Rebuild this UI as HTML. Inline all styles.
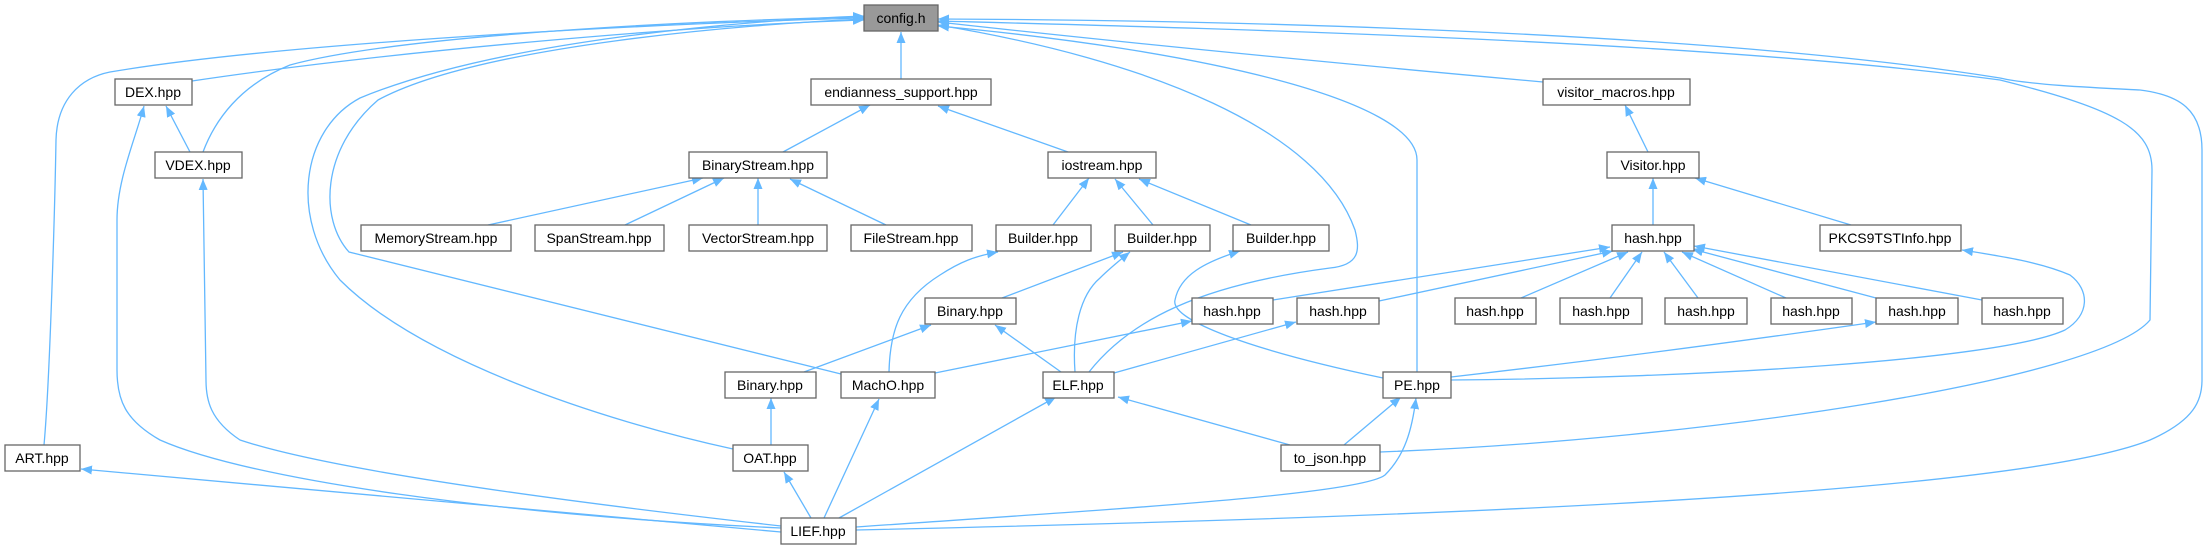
<!DOCTYPE html>
<html><head><meta charset="utf-8"><style>
html,body{margin:0;padding:0;background:#fff;}
svg{display:block;}
text{font-family:"Liberation Sans",sans-serif;font-size:14px;fill:#000;text-anchor:middle;}
.b{fill:#fff;stroke:#666;stroke-width:1.3;}
.e{fill:none;stroke:#63b8ff;stroke-width:1.3;marker-end:url(#a);}
</style></head><body>
<svg width="2208" height="549" viewBox="0 0 2208 549" xmlns="http://www.w3.org/2000/svg">
<defs><marker id="a" markerUnits="userSpaceOnUse" markerWidth="11" markerHeight="9" refX="11" refY="4.5" orient="auto"><path d="M0,0 L11,4.5 L0,9 z" fill="#63b8ff"/></marker></defs>
<!-- edges to config -->
<path class="e" d="M44,445 C50,380 55,200 56,140 C57,100 80,78 110,72 C300,40 700,22 864,18"/>
<path class="e" d="M192,81 C400,50 700,25 864,20"/>
<path class="e" d="M203,152 C215,120 240,85 290,65 C400,35 700,20 864,17"/>
<path class="e" d="M733,449 C600,420 420,360 340,280 C290,220 300,130 360,98 C500,40 750,20 864,16"/>
<path class="e" d="M841,374 L349,252 C320,220 320,150 378,100 C480,45 750,24 864,19"/>
<path class="e" d="M901,79 L901,32"/>
<path class="e" d="M1089,372 C1130,320 1200,285 1330,268 C1360,265 1360,250 1355,230 C1320,130 1150,60 938,25"/>
<path class="e" d="M1417,372 L1417,160 C1417,100 1200,50 938,26"/>
<path class="e" d="M1543,82 C1300,60 1100,40 938,22"/>
<path class="e" d="M1380,452 C1700,440 2100,380 2150,320 L2152,170 C2152,130 2120,110 2000,80 C1700,40 1200,28 938,21"/>
<path class="e" d="M856,530 C1300,520 2000,500 2150,440 C2195,420 2202,400 2202,380 L2202,150 C2202,110 2180,95 2140,90 C2100,88 2030,85 2000,78 C1700,30 1200,20 938,19"/>
<!-- DEX / VDEX / ART -->
<path class="e" d="M190,152 L166,106"/>
<path class="e" d="M781,528 C500,515 250,480 160,440 C125,420 117,400 117,370 L117,220 C117,180 135,140 144,106"/>
<path class="e" d="M781,526 C550,500 330,470 240,440 C210,420 206,400 206,380 L203,179"/>
<path class="e" d="M781,532 L81,469"/>
<!-- endianness -->
<path class="e" d="M783,152 L870,105"/>
<path class="e" d="M1068,152 L938,106"/>
<path class="e" d="M488,225 L703,178"/>
<path class="e" d="M625,225 L724,178"/>
<path class="e" d="M758,225 L758,178"/>
<path class="e" d="M886,225 L790,179"/>
<path class="e" d="M1053,225 L1089,178"/>
<path class="e" d="M1153,225 L1115,179"/>
<path class="e" d="M1251,225 L1139,179"/>
<!-- visitor -->
<path class="e" d="M1648,152 L1625,105"/>
<path class="e" d="M1653,225 L1653,178"/>
<path class="e" d="M1851,225 L1695,178"/>
<path class="e" d="M1273,300 L1610,247"/>
<path class="e" d="M1379,301 L1613,251"/>
<path class="e" d="M1521,298 L1628,252"/>
<path class="e" d="M1610,298 L1642,252"/>
<path class="e" d="M1698,298 L1664,252"/>
<path class="e" d="M1786,298 L1682,252"/>
<path class="e" d="M1876,298 L1692,249"/>
<path class="e" d="M1982,300 L1694,246"/>
<path class="e" d="M1451,380 C1700,378 2000,360 2065,330 C2090,315 2090,290 2070,275 C2040,262 2000,256 1962,250"/>
<!-- builders -->
<path class="e" d="M889,372 C890,330 900,300 940,275 C960,262 975,256 998,252"/>
<path class="e" d="M1002,298 L1123,252"/>
<path class="e" d="M1075,372 C1072,330 1080,295 1100,278 C1110,268 1120,260 1130,252"/>
<path class="e" d="M1383,378 C1250,350 1170,320 1175,300 C1180,275 1205,262 1240,251"/>
<!-- binary / hash -->
<path class="e" d="M804,372 L931,325"/>
<path class="e" d="M1061,372 L995,325"/>
<path class="e" d="M935,373 L1192,321"/>
<path class="e" d="M1114,373 L1296,322"/>
<path class="e" d="M1451,377 C1600,360 1750,340 1876,322"/>
<!-- lower -->
<path class="e" d="M771,445 L771,398"/>
<path class="e" d="M811,518 L784,472"/>
<path class="e" d="M824,518 L879,399"/>
<path class="e" d="M839,518 L1056,397"/>
<path class="e" d="M1290,445 L1118,397"/>
<path class="e" d="M1344,445 L1401,397"/>
<path class="e" d="M856,527 C1100,510 1360,495 1385,475 C1405,455 1412,430 1416,398"/>
<!-- nodes -->
<rect x="864" y="5" width="74" height="26" fill="#999" stroke="#666" stroke-width="1.3"/><text x="901" y="23">config.h</text>
<rect class="b" x="115" y="79" width="77" height="26"/><text x="153" y="97">DEX.hpp</text>
<rect class="b" x="811" y="79" width="180" height="26"/><text x="901" y="97">endianness_support.hpp</text>
<rect class="b" x="1543" y="79" width="147" height="26"/><text x="1616" y="97">visitor_macros.hpp</text>
<rect class="b" x="155" y="152" width="87" height="26"/><text x="198" y="170">VDEX.hpp</text>
<rect class="b" x="689" y="152" width="138" height="26"/><text x="758" y="170">BinaryStream.hpp</text>
<rect class="b" x="1048" y="152" width="108" height="26"/><text x="1102" y="170">iostream.hpp</text>
<rect class="b" x="1607" y="152" width="92" height="26"/><text x="1653" y="170">Visitor.hpp</text>
<rect class="b" x="361" y="225" width="150" height="26"/><text x="436" y="243">MemoryStream.hpp</text>
<rect class="b" x="535" y="225" width="129" height="26"/><text x="599" y="243">SpanStream.hpp</text>
<rect class="b" x="689" y="225" width="138" height="26"/><text x="758" y="243">VectorStream.hpp</text>
<rect class="b" x="851" y="225" width="121" height="26"/><text x="911" y="243">FileStream.hpp</text>
<rect class="b" x="996" y="225" width="95" height="26"/><text x="1043" y="243">Builder.hpp</text>
<rect class="b" x="1115" y="225" width="95" height="26"/><text x="1162" y="243">Builder.hpp</text>
<rect class="b" x="1233" y="225" width="96" height="26"/><text x="1281" y="243">Builder.hpp</text>
<rect class="b" x="1612" y="225" width="82" height="26"/><text x="1653" y="243">hash.hpp</text>
<rect class="b" x="1820" y="225" width="141" height="26"/><text x="1890" y="243">PKCS9TSTInfo.hpp</text>
<rect class="b" x="925" y="298" width="91" height="26"/><text x="970" y="316">Binary.hpp</text>
<rect class="b" x="1192" y="298" width="81" height="26"/><text x="1232" y="316">hash.hpp</text>
<rect class="b" x="1297" y="298" width="82" height="26"/><text x="1338" y="316">hash.hpp</text>
<rect class="b" x="1455" y="298" width="81" height="26"/><text x="1495" y="316">hash.hpp</text>
<rect class="b" x="1560" y="298" width="82" height="26"/><text x="1601" y="316">hash.hpp</text>
<rect class="b" x="1665" y="298" width="82" height="26"/><text x="1706" y="316">hash.hpp</text>
<rect class="b" x="1771" y="298" width="81" height="26"/><text x="1811" y="316">hash.hpp</text>
<rect class="b" x="1876" y="298" width="82" height="26"/><text x="1917" y="316">hash.hpp</text>
<rect class="b" x="1982" y="298" width="81" height="26"/><text x="2022" y="316">hash.hpp</text>
<rect class="b" x="725" y="372" width="91" height="26"/><text x="770" y="390">Binary.hpp</text>
<rect class="b" x="841" y="372" width="94" height="26"/><text x="888" y="390">MachO.hpp</text>
<rect class="b" x="1043" y="372" width="71" height="26"/><text x="1078" y="390">ELF.hpp</text>
<rect class="b" x="1383" y="372" width="68" height="26"/><text x="1417" y="390">PE.hpp</text>
<rect class="b" x="5" y="445" width="75" height="26"/><text x="42" y="463">ART.hpp</text>
<rect class="b" x="733" y="445" width="75" height="26"/><text x="770" y="463">OAT.hpp</text>
<rect class="b" x="1281" y="445" width="99" height="26"/><text x="1330" y="463">to_json.hpp</text>
<rect class="b" x="781" y="518" width="75" height="26"/><text x="818" y="536">LIEF.hpp</text>
</svg>
</body></html>
